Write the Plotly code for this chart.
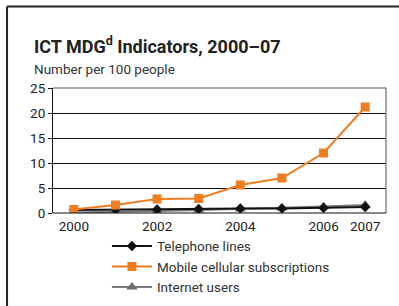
import plotly.graph_objects as go

years = ["2000", "2001", "2002", "2003", "2004", "2005", "2006", "2007"]
telephone = [0.6, 0.7, 0.7, 0.8, 0.9, 0.9, 1.0, 1.2]
mobile = [0.7, 1.6, 2.8, 2.9, 5.6, 7.0, 12.0, 21.2]
internet = [0.1, 0.2, 0.4, 0.6, 0.8, 1.0, 1.3, 1.6]
tick_years = ["2000", "2002", "2004", "2006", "2007"]
y_ticks = [0, 5, 10, 15, 20, 25]

FONT = "Roboto"

fig = go.Figure()
fig.add_trace(go.Scatter(x=years, y=internet, name="Internet users", mode="lines+markers",
                         line=dict(color="#7a7a7a", width=2),
                         marker=dict(symbol="triangle-up", size=10, color="#6e6e6e")))
fig.add_trace(go.Scatter(x=years, y=telephone, name="Telephone lines", mode="lines+markers",
                         line=dict(color="#111111", width=2),
                         marker=dict(symbol="diamond", size=8, color="#111111")))
fig.add_trace(go.Scatter(x=years, y=mobile, name="Mobile cellular subscriptions", mode="lines+markers",
                         line=dict(color="#f07d20", width=2),
                         marker=dict(symbol="square", size=9, color="#f07d20")))

fig.update_layout(
    width=399, height=306,
    margin=dict(l=53, r=13, t=88, b=93, autoexpand=False),
    paper_bgcolor="white", plot_bgcolor="white",
    font=dict(family=FONT, color="#333333", size=13),
    showlegend=True,
    legend=dict(x=0.268, y=0.246, xref="container", yref="container", xanchor="left", yanchor="top",
                traceorder="normal", font=dict(size=13.5, color="#333333"),
                itemwidth=40, tracegroupgap=0, bgcolor="rgba(0,0,0,0)"),
    xaxis=dict(type="category", range=[-0.5, 7.5], tickmode="array",
               tickvals=tick_years, ticktext=tick_years, showgrid=False,
               showline=False, ticks="", tickfont=dict(size=13.5, color="#222222"),
               ticklabelstandoff=3, mirror=False),
    yaxis=dict(range=[0, 25], tickvals=y_ticks, showgrid=True, gridcolor="#111111",
               gridwidth=1, showline=True, linecolor="#111111", linewidth=1,
               ticks="outside", ticklen=4, tickcolor="#111111",
               tickfont=dict(size=13.5, color="#222222"), zeroline=False),
    annotations=[
        dict(text="<b>ICT MDG<sup>d</sup> Indicators, 2000–07</b>", xref="paper", yref="paper",
             x=-0.063, y=1.235, xanchor="left", yanchor="bottom", showarrow=False,
             font=dict(size=18, color="#222222", family=FONT)),
        dict(text="Number per 100 people", xref="paper", yref="paper",
             x=-0.063, y=1.075, xanchor="left", yanchor="bottom", showarrow=False,
             font=dict(size=13.5, color="#333333", family=FONT)),
    ],
    shapes=[
        dict(type="line", xref="paper", yref="paper", x0=0, x1=1, y0=1, y1=1,
             line=dict(color="#888888", width=1.5)),
        dict(type="line", xref="paper", yref="paper", x0=1, x1=1, y0=0, y1=1,
             line=dict(color="#888888", width=1.5)),
        dict(type="line", xref="paper", yref="paper", x0=0, x1=1, y0=0, y1=0,
             line=dict(color="#111111", width=1)),
        dict(type="line", xref="paper", yref="paper", x0=-0.138, x1=1.1, y0=1.652, y1=1.652,
             line=dict(color="#222222", width=2)),
        dict(type="line", xref="paper", yref="paper", x0=-0.138, x1=-0.138, y0=1.652, y1=-0.8,
             line=dict(color="#222222", width=2)),
    ],
)

fig.data[0].legendrank = 3
fig.data[1].legendrank = 1
fig.data[2].legendrank = 2

fig.write_html("out.html", config={"displayModeBar": False},
               post_script="document.body.style.margin='0';document.body.style.padding='0';")
